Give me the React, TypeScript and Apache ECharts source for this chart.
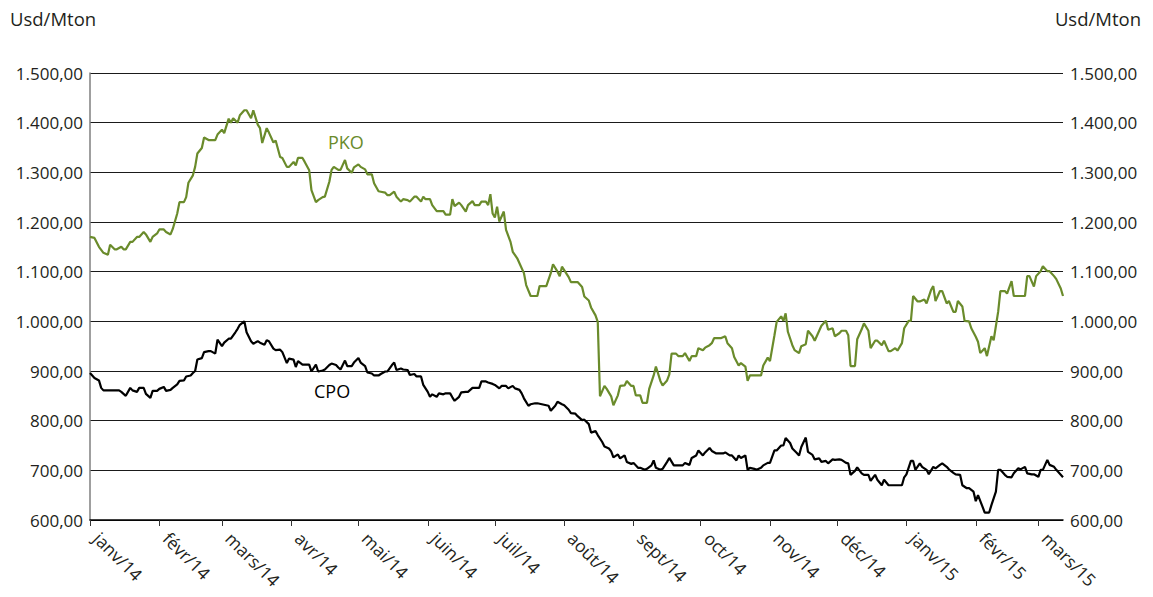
import React, { useEffect, useRef } from "react";
import * as echarts from "echarts";

const monthStarts = [0, 31, 59, 90, 120, 151, 181, 212, 243, 273, 304, 334, 365, 396, 424];
const monthLabels = ["janv/14", "févr/14", "mars/14", "avr/14", "mai/14", "juin/14", "juil/14", "août/14", "sept/14", "oct/14", "nov/14", "déc/14", "janv/15", "févr/15", "mars/15"];
const lastDay = 435;
const yMin = 600;
const yMax = 1500;
const yStep = 100;
const unitLabel = "Usd/Mton";

// [days since 1 Jan 2014, USD/Mton]
const pko: [number, number][] = [
  [0,1170],[2,1168],[4,1150],[6,1138],[8,1134],[9,1154],[11,1145],[12,1145],[14,1150],[15,1145],[16,1145],[18,1160],[19,1160],[21,1170],[22,1170],[24,1180],[25,1175],[27,1160],[28,1170],[30,1177],[31,1185],[33,1185],[34,1180],[36,1175],[37,1186],[39,1217],[40,1240],[42,1240],[43,1250],[44,1279],[46,1294],[47,1311],[48,1338],[50,1349],[51,1370],[53,1365],[54,1365],[56,1365],[57,1376],[59,1386],[60,1379],[62,1408],[63,1400],[64,1409],[66,1400],[67,1415],[69,1425],[70,1425],[72,1409],[73,1425],[75,1396],[76,1389],[77,1359],[79,1389],[80,1380],[82,1360],[83,1364],[85,1331],[86,1329],[88,1311],[89,1311],[91,1321],[92,1314],[93,1329],[95,1329],[96,1321],[98,1304],[99,1264],[101,1240],[102,1244],[104,1250],
  [105,1251],[107,1281],[108,1305],[109,1311],[111,1305],[112,1305],[114,1325],[115,1308],[117,1299],[118,1310],[120,1316],[121,1311],[123,1306],[124,1296],[126,1296],[127,1278],[129,1262],[130,1261],[132,1259],[133,1254],[134,1254],[136,1261],[137,1251],[139,1241],[140,1246],[142,1244],[143,1241],[145,1251],[146,1251],[148,1241],[149,1251],[150,1246],[152,1246],[153,1234],[155,1222],[156,1222],[158,1222],[159,1215],[161,1215],[162,1246],[163,1232],[165,1239],[166,1234],[168,1221],[169,1234],[171,1242],[172,1234],[174,1234],[175,1241],[177,1241],[178,1234],[179,1256],[180,1217],[181,1209],[182,1231],[183,1201],[185,1221],[186,1184],[188,1160],[189,1140],[191,1127],[192,1117],[194,1097],[195,1073],[197,1051],[198,1051],[200,1051],[201,1071],[203,1071],[204,1071],[206,1097],[207,1115],[209,1100],[210,1091],[211,1110],
  [212,1103],[214,1089],[215,1079],[217,1079],[218,1079],[220,1069],[221,1050],[223,1042],[224,1028],[226,1012],[227,999],[228,849],[230,870],[231,864],[233,849],[234,831],[236,851],[237,870],[239,871],[240,880],[242,870],[243,870],[244,851],[246,851],[247,836],[249,836],[250,864],[252,891],[253,909],[255,880],[256,871],[258,881],[259,893],[260,935],[262,935],[263,930],[265,930],[266,936],[268,920],[269,930],[271,930],[272,946],[274,942],[275,947],[277,952],[278,956],[279,966],[281,966],[282,966],[284,970],[285,956],[287,946],[288,928],[290,911],[291,916],[293,909],[294,880],[295,891],[297,891],[298,891],[300,891],[301,911],[303,927],[304,920],[306,972],[307,999],[309,1010],[310,1001],[311,1016],[312,979],[314,952],[315,942],[317,936],[318,950],
  [320,954],[321,981],[323,970],[324,961],[326,981],[327,991],[329,1001],[330,983],[332,986],[333,970],[335,976],[336,981],[338,981],[339,972],[340,910],[342,910],[343,964],[345,984],[346,996],[348,981],[349,946],[351,961],[352,961],[354,952],[355,961],[357,940],[358,940],[360,946],[361,941],[363,956],[364,986],[366,1001],[367,1001],[368,1051],[370,1040],[371,1040],[373,1044],[374,1036],[376,1063],[377,1071],[378,1041],[380,1061],[381,1061],[383,1036],[384,1041],[386,1019],[387,1019],[388,1041],[390,1030],[391,1001],[393,1000],[394,986],[396,969],[397,959],[398,936],[400,946],[401,930],[403,970],[404,962],[406,1019],[407,1061],[409,1061],[410,1056],[412,1081],[413,1051],[415,1051],[416,1051],[418,1051],[419,1091],[420,1091],[422,1070],[423,1091],[425,1101],[426,1111],[428,1101],[429,1101],[431,1091],[432,1085],[434,1066],[435,1051],
];

const cpo: [number, number][] = [
  [0,896],[2,886],[4,881],[5,866],[6,861],[8,861],[10,861],[11,861],[13,861],[14,858],[15,854],[16,850],[18,866],[19,861],[21,858],[22,866],[24,866],[25,854],[27,846],[28,860],[30,860],[31,864],[33,868],[34,860],[36,862],[37,866],[39,873],[40,880],[42,881],[43,889],[45,891],[46,896],[47,900],[48,923],[50,926],[51,938],[53,940],[54,940],[56,935],[57,963],[59,950],[60,957],[62,965],[63,965],[65,978],[66,985],[67,993],[69,1000],[70,978],[72,960],[73,955],[75,960],[76,957],[78,953],[79,962],[80,960],[82,945],[83,942],[85,943],[86,938],[88,916],[89,925],[91,923],[92,908],[93,920],[95,913],[96,913],[98,913],[99,899],[101,913],[102,899],[104,901],
  [105,903],[107,912],[108,915],[110,912],[111,907],[112,903],[114,921],[115,910],[117,910],[118,917],[120,926],[121,917],[123,910],[124,897],[126,895],[127,891],[129,891],[130,894],[132,899],[133,899],[135,912],[136,917],[137,902],[139,905],[140,903],[142,902],[143,892],[145,894],[146,889],[148,889],[149,872],[151,858],[152,848],[153,853],[155,848],[156,855],[158,853],[159,855],[161,855],[162,847],[163,840],[165,848],[166,857],[168,858],[169,858],[171,866],[172,866],[174,866],[175,879],[177,879],[178,877],[180,874],[181,872],[183,865],[184,870],[186,870],[187,865],[189,870],[190,865],[192,862],[193,855],[194,845],[196,830],[197,833],[199,835],[200,835],[202,833],[203,832],[205,830],[206,820],[208,830],[209,838],[211,833],
  [212,831],[214,822],[215,815],[217,814],[218,809],[220,801],[221,802],[223,793],[224,776],[226,779],[227,771],[229,757],[230,748],[232,744],[233,738],[234,726],[236,732],[237,724],[239,730],[240,717],[242,713],[243,715],[245,705],[246,705],[248,701],[249,703],[251,710],[252,720],[253,705],[255,701],[256,703],[258,717],[259,725],[261,710],[262,710],[263,710],[265,710],[266,715],[268,711],[269,725],[271,730],[272,740],[274,730],[275,736],[277,745],[278,739],[280,734],[281,734],[283,734],[284,736],[286,730],[287,730],[289,720],[290,730],[291,725],[293,730],[294,701],[295,705],[297,703],[298,701],[300,705],[301,710],[303,715],[304,715],[306,740],[307,740],[309,750],[310,750],[311,765],[313,755],[314,744],[316,735],[317,730],[318,747],
  [320,766],[321,737],[323,731],[324,722],[326,724],[327,717],[329,719],[330,714],[332,722],[333,721],[335,722],[336,721],[338,715],[339,714],[340,691],[342,699],[343,706],[345,694],[346,691],[348,691],[349,679],[351,691],[352,681],[354,670],[355,681],[357,670],[358,670],[360,670],[361,670],[363,670],[364,686],[365,692],[367,719],[368,719],[369,701],[371,714],[372,707],[374,701],[375,692],[377,707],[378,704],[380,711],[381,714],[383,707],[384,702],[386,695],[387,692],[389,691],[390,670],[392,664],[393,664],[395,657],[396,638],[397,650],[399,627],[400,615],[402,615],[403,630],[405,657],[406,701],[407,701],[409,691],[410,687],[412,686],[413,694],[415,704],[416,702],[418,707],[419,694],[421,692],[422,692],[424,687],[425,701],[426,701],[428,721],[429,711],[431,707],[432,701],[434,691],[435,686],
];

const FONT = "'Open Sans', 'Noto Sans', sans-serif";
const TEXT = "#231f20";
const GREEN = "#6a8b2b";

function fmt(v: number): string {
  const [i, d] = v.toFixed(2).split(".");
  return i.replace(/\B(?=(\d{3})+(?!\d))/g, ".") + "," + d;
}

export default function App() {
  const ref = useRef<HTMLDivElement>(null);
  useEffect(() => {
    if (!ref.current) return;
    const chart = echarts.init(ref.current, undefined, { renderer: "svg" });
    const yLabel = { fontFamily: FONT, fontSize: 17, color: TEXT, formatter: (v: number) => fmt(v) };
    chart.setOption({
      animation: false,
      backgroundColor: "#ffffff",
      grid: { left: 90, right: 90, top: 73, bottom: 77, containLabel: false },
      xAxis: {
        type: "value",
        min: 0,
        max: lastDay,
        axisLine: { show: true, onZero: false, lineStyle: { color: "#000", width: 1.5 } },
        axisTick: { show: true, customValues: monthStarts, length: 6, lineStyle: { color: "#333", width: 1 } },
        axisLabel: {
          customValues: monthStarts,
          rotate: -45,
          margin: 8,
          padding: [0, 0, 0, 10],
          fontFamily: FONT,
          fontSize: 17.5,
          color: TEXT,
          formatter: (v: number) => monthLabels[monthStarts.indexOf(Math.round(v))] ?? "",
        },
        splitLine: { show: false },
      },
      yAxis: [
        {
          type: "value",
          min: yMin,
          max: yMax,
          interval: yStep,
          position: "left",
          axisLine: { show: true, lineStyle: { color: "#7f7f7f", width: 1.5 } },
          axisTick: { show: false },
          axisLabel: { ...yLabel, margin: 7 },
          splitLine: { show: true, lineStyle: { color: "#1a1a1a", width: 1 } },
        },
        {
          type: "value",
          min: yMin,
          max: yMax,
          interval: yStep,
          position: "right",
          axisLine: { show: false },
          axisTick: { show: false },
          axisLabel: { ...yLabel, margin: 7 },
          splitLine: { show: false },
        },
      ],
      series: [
        {
          name: "PKO",
          type: "line",
          data: pko,
          showSymbol: false,
          lineStyle: { color: GREEN, width: 2.2 },
          z: 3,
        },
        {
          name: "CPO",
          type: "line",
          data: cpo,
          showSymbol: false,
          lineStyle: { color: "#000", width: 2.2 },
          z: 3,
        },
      ],
      graphic: [
        { type: "text", left: 10, top: 9, style: { text: unitLabel, fontFamily: FONT, fontSize: 18.5, fill: TEXT } },
        { type: "text", right: 12, top: 9, style: { text: unitLabel, fontFamily: FONT, fontSize: 18.5, fill: TEXT } },
        { type: "text", left: 328, top: 133, style: { text: "PKO", fontFamily: FONT, fontSize: 18, fill: GREEN } },
        { type: "text", left: 314, top: 382, style: { text: "CPO", fontFamily: FONT, fontSize: 18, fill: "#000" } },
      ],
    });
    return () => chart.dispose();
  }, []);
  return <div ref={ref} style={{ position: "fixed", left: 0, top: 0, width: 1153, height: 597 }} />;
}
